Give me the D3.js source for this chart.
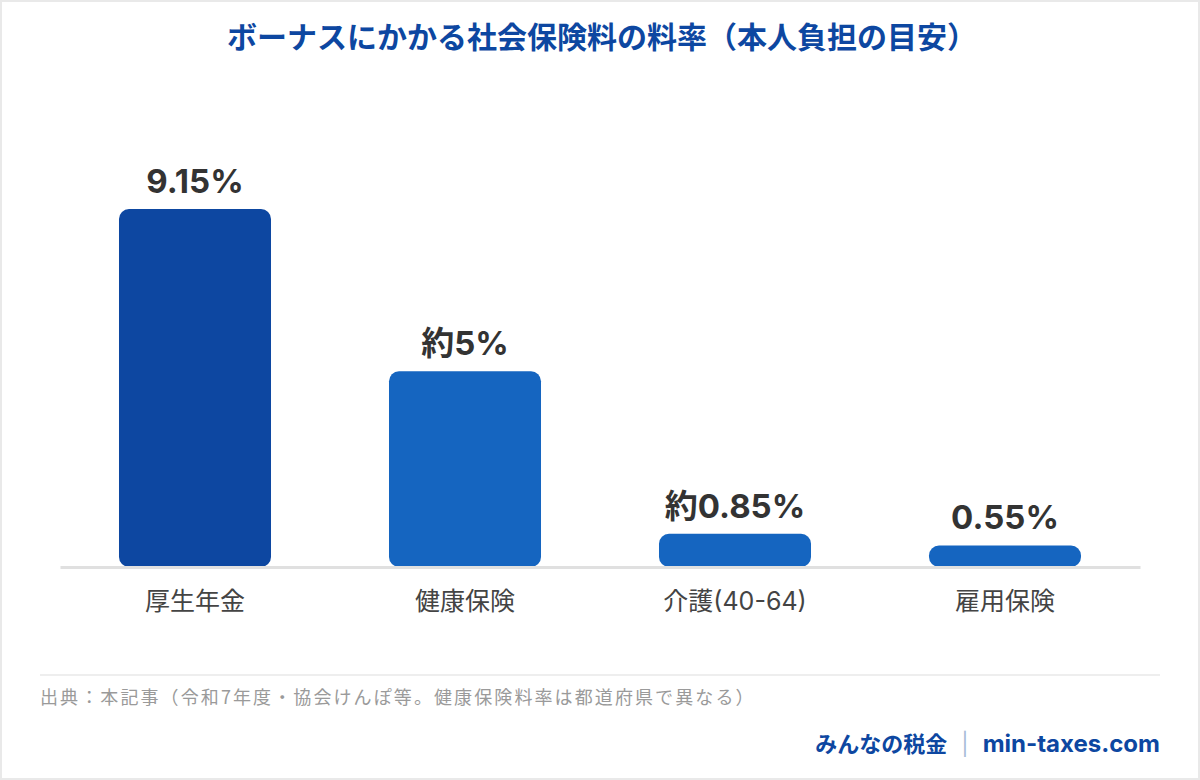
<!DOCTYPE html>
<html>
<head>
<meta charset="utf-8">
<script src="https://cdn.jsdelivr.net/npm/d3@7"></script>
<style>
  html, body { margin: 0; padding: 0; background: #e9e9e9; }
  #container { width: 1200px; height: 780px; }
</style>
</head>
<body>
<div id="container"></div>
<script>
/* CONSTANTS AND GLOBALS */
const width = 1200,
  height = 780,
  left = 60,
  right = 1140,
  baseline = 567,
  topY = 209;

/* DATA */
const categories = ["厚生年金", "健康保険", "介護(40-64)", "雇用保険"];
const rates = [9.15, 5, 0.85, 0.55];
const rateLabels = ["9.15%", "約5%", "約0.85%", "0.55%"];
const barColors = ["#0d47a1", "#1565c0", "#1565c0", "#1565c0"];

const title = "ボーナスにかかる社会保険料の料率（本人負担の目安）";
const source = "出典：本記事（令和7年度・協会けんぽ等。健康保険料率は都道府県で異なる）";
const brand = "みんなの税金";
const site = "min-taxes.com";

const data = categories.map((c, i) => ({
  category: c, rate: rates[i], label: rateLabels[i], color: barColors[i]
}));

const font = "Inter, 'Noto Sans CJK JP', sans-serif";
const jpFont = "'Noto Sans CJK JP', sans-serif";

const svg = d3.select("#container")
  .append("svg")
  .attr("width", width)
  .attr("height", height)
  .style("display", "block");

// card
svg.append("rect")
  .attr("x", 2).attr("y", 2)
  .attr("width", width - 4).attr("height", height - 4)
  .attr("fill", "#ffffff");

/* SCALES */
const xScale = d3.scaleBand()
  .domain(categories)
  .range([left, right])
  .paddingInner(0.437)
  .paddingOuter(0.2185);

const yScale = d3.scaleLinear()
  .domain([0, d3.max(rates)])
  .range([baseline, topY]);

/* TITLE */
svg.append("text")
  .attr("x", width / 2 + 2)
  .attr("y", 48)
  .attr("text-anchor", "middle")
  .style("font-family", jpFont)
  .style("font-weight", 700)
  .style("font-size", "30px")
  .style("fill", "#0d47a1")
  .text(title);

/* BARS */
svg.selectAll(".bar")
  .data(data)
  .join("rect")
  .attr("class", "bar")
  .attr("x", d => xScale(d.category))
  .attr("y", d => yScale(d.rate))
  .attr("width", xScale.bandwidth())
  .attr("height", d => baseline - yScale(d.rate))
  .attr("rx", 10)
  .attr("ry", 10)
  .style("fill", d => d.color);

// baseline axis
const xAxis = svg.append("g")
  .attr("class", "x-axis")
  .attr("transform", `translate(0, ${baseline})`)
  .call(d3.axisBottom(xScale).tickSize(0).tickPadding(25));

xAxis.select(".domain")
  .attr("stroke", "#e0e0e0")
  .attr("stroke-width", 3);

xAxis.selectAll("text")
  .style("font-family", font)
  .style("font-size", "25px")
  .style("fill", "#444");

/* VALUE LABELS */
svg.selectAll(".value")
  .data(data)
  .join("text")
  .attr("class", "value")
  .attr("x", d => xScale(d.category) + xScale.bandwidth() / 2)
  .attr("y", d => yScale(d.rate) - 16)
  .attr("text-anchor", "middle")
  .style("font-family", font)
  .style("font-weight", 700)
  .style("font-size", "33px")
  .style("fill", "#333")
  .text(d => d.label);

/* FOOTER */
svg.append("line")
  .attr("x1", 40).attr("x2", 1160)
  .attr("y1", 675).attr("y2", 675)
  .attr("stroke", "#eeeeee")
  .attr("stroke-width", 2);

svg.append("text")
  .attr("x", 40)
  .attr("y", 704)
  .style("font-family", jpFont)
  .style("font-size", "18px")
  .style("letter-spacing", "2.1px")
  .style("fill", "#9a9a9a")
  .text(source);

const brandText = svg.append("text")
  .attr("x", 1160)
  .attr("y", 752)
  .attr("text-anchor", "end")
  .style("font-family", font)
  .style("font-weight", 700)
  .style("font-size", "22px")
  .style("fill", "#0d47a1");

brandText.append("tspan").style("font-family", jpFont).text(brand);
brandText.append("tspan").attr("dx", 14).style("fill", "#a9bcd8").style("font-weight", 400).text("|");
brandText.append("tspan").attr("dx", 14).style("font-size", "24px").text(site);
</script>
</body>
</html>
